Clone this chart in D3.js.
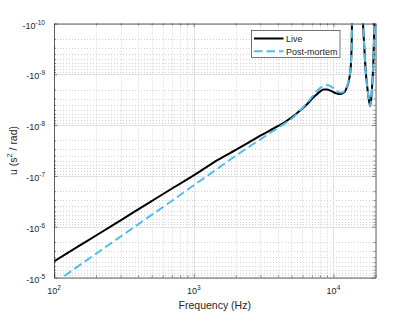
<!DOCTYPE html>
<html>
<head>
<meta charset="utf-8">
<script src="https://cdn.jsdelivr.net/npm/d3@7"></script>
<style>
  html, body { margin: 0; padding: 0; background: #fff; }
  svg { display: block; font-family: "Liberation Sans", Arial, Helvetica, sans-serif; }
</style>
</head>
<body>
<svg id="chart" width="415" height="312"></svg>
<script>
// frequency samples (Hz) shared by both series
const freqHz = [
  100, 150, 200, 300, 500, 700, 1000, 1500, 2000, 2500,
  3000, 3500, 4000, 4500, 5000, 5500, 6000, 6500, 7000, 7500,
  8000, 8500, 9000, 9500, 10000, 10500, 11000, 11500, 12000, 12500,
  13000, 13300, 13500, 13700, 16000, 16300, 16600, 17000, 17500, 18000,
  18300, 18600, 19000, 19300, 19600, 19900
];

// u (s^2 / rad), negative values
const uLive = [
  -4.83e-6, -2.42e-6, -1.49e-6, -7.48e-7, -3.13e-7, -1.77e-7, -9.77e-8, -4.77e-8, -3.08e-8, -2.17e-8,
  -1.62e-8, -1.28e-8, -1.05e-8, -8.69e-9, -7.10e-9, -5.78e-9, -4.72e-9, -3.85e-9, -3.07e-9, -2.56e-9,
  -2.19e-9, -2.00e-9, -2.00e-9, -2.09e-9, -2.24e-9, -2.37e-9, -2.45e-9, -2.39e-9, -2.24e-9, -1.78e-9,
  -1.19e-9, -7.23e-10, -2.67e-10, -2e-11, -2e-11, -1.08e-10, -2.67e-10, -8.26e-10, -1.87e-9, -3.37e-9,
  -4.22e-9, -3.21e-9, -1.42e-9, -5.75e-10, -1.36e-10, -2e-11
];

const uPostMortem = [
  -1.29e-5, -5.92e-6, -3.40e-6, -1.56e-6, -5.86e-7, -3.08e-7, -1.53e-7, -7.03e-8, -4.01e-8, -2.65e-8,
  -1.91e-8, -1.44e-8, -1.14e-8, -9.23e-9, -7.59e-9, -5.92e-9, -4.61e-9, -3.60e-9, -2.81e-9, -2.24e-9,
  -1.87e-9, -1.71e-9, -1.63e-9, -1.71e-9, -1.87e-9, -2.07e-9, -2.27e-9, -2.29e-9, -2.14e-9, -1.71e-9,
  -1.14e-9, -6.90e-10, -2.55e-10, -2e-11, -2e-11, -1.08e-10, -2.67e-10, -8.26e-10, -1.87e-9, -3.37e-9,
  -4.22e-9, -3.21e-9, -1.42e-9, -5.75e-10, -1.36e-10, -2e-11
];

const seriesNames = ["Live", "Post-mortem"];
const xTickValues = [1e2, 1e3, 1e4];
const xTickExponents = ["2", "3", "4"];
const yTickValues = [-1e-10, -1e-9, -1e-8, -1e-7, -1e-6, -1e-5];
const yTickExponents = ["-10", "-9", "-8", "-7", "-6", "-5"];

const plot = { left: 54, right: 375.5, top: 23.5, bottom: 277.5 };
const textColor = "#262626";

const svg = d3.select("#chart");

const x = d3.scaleLog().domain([100, 20000]).range([plot.left, plot.right]);
// magnitude of u, larger |u| lower on the page
const y = d3.scaleLog().domain([1e-10, 1e-5]).range([plot.top, plot.bottom]);
const yOf = (u) => y(-u);

// grid
const grid = svg.append("g");
const xMinor = x.ticks().filter((d) => !xTickValues.includes(d));
const yMinor = y.ticks().filter((d) => !yTickValues.includes(-d));

grid.selectAll(".xminor").data(xMinor).join("line")
  .attr("x1", (d) => Math.round(x(d)) + 0.5).attr("x2", (d) => Math.round(x(d)) + 0.5)
  .attr("y1", plot.top).attr("y2", plot.bottom)
  .attr("stroke", "#d2d2d2").attr("stroke-width", 1).attr("stroke-dasharray", "1,2");

grid.selectAll(".yminor").data(yMinor).join("line")
  .attr("x1", plot.left).attr("x2", plot.right)
  .attr("y1", (d) => Math.round(y(d)) + 0.5).attr("y2", (d) => Math.round(y(d)) + 0.5)
  .attr("stroke", "#d2d2d2").attr("stroke-width", 1).attr("stroke-dasharray", "1,2");

grid.selectAll(".xmajor").data(xTickValues).join("line")
  .attr("x1", (d) => Math.round(x(d)) + 0.5).attr("x2", (d) => Math.round(x(d)) + 0.5)
  .attr("y1", plot.top).attr("y2", plot.bottom)
  .attr("stroke", "#e2e2e2").attr("stroke-width", 1);

grid.selectAll(".ymajor").data(yTickValues).join("line")
  .attr("x1", plot.left).attr("x2", plot.right)
  .attr("y1", (d) => Math.round(yOf(d)) + 0.5).attr("y2", (d) => Math.round(yOf(d)) + 0.5)
  .attr("stroke", "#e2e2e2").attr("stroke-width", 1);

// curves
svg.append("clipPath").attr("id", "plot-clip")
  .append("rect")
  .attr("x", plot.left).attr("y", plot.top)
  .attr("width", plot.right - plot.left).attr("height", plot.bottom - plot.top);

const line = (values) => d3.line()
  .x((d, i) => x(freqHz[i]))
  .y((d) => yOf(d))
  .curve(d3.curveMonotoneX)(values);

const curves = svg.append("g").attr("clip-path", "url(#plot-clip)");
curves.append("path")
  .attr("d", line(uLive))
  .attr("fill", "none").attr("stroke", "#000").attr("stroke-width", 2);
curves.append("path")
  .attr("d", line(uPostMortem))
  .attr("fill", "none").attr("stroke", "#4dbeee").attr("stroke-width", 2)
  .attr("stroke-dasharray", "8.5,4");

// axes: ticks inward on all four sides
const axisColor = "#3a3a3a";
const axes = svg.append("g");
const tickSides = [
  { axis: d3.axisBottom(x), pos: `translate(0,${plot.bottom})` },
  { axis: d3.axisTop(x), pos: `translate(0,${plot.top})` },
  { axis: d3.axisLeft(y), pos: `translate(${plot.left},0)` },
  { axis: d3.axisRight(y), pos: `translate(${plot.right},0)` }
];
tickSides.forEach(({ axis, pos }, k) => {
  const isX = k < 2;
  const scale = isX ? x : y;
  const majors = isX ? xTickValues : yTickValues.map((d) => -d);
  const g = axes.append("g").attr("transform", pos)
    .call(axis.tickValues(scale.ticks()).tickSizeOuter(0).tickFormat(""));
  g.select(".domain").attr("stroke", axisColor).attr("stroke-width", 0.8);
  g.selectAll(".tick line")
    .attr("stroke", axisColor).attr("stroke-width", 0.6)
    .each(function (d) {
      const len = majors.includes(d) ? 3.5 : 2;
      const el = d3.select(this);
      if (isX) el.attr("y2", (k === 0 ? -1 : 1) * len);
      else el.attr("x2", (k === 2 ? 1 : -1) * len);
    });
  g.selectAll(".tick text").remove();
});

// tick labels with superscripts
const xLabels = svg.append("g").attr("font-size", 9).attr("fill", textColor);
xTickValues.forEach((d, i) => {
  const t = xLabels.append("text").attr("x", x(d)).attr("y", 293.5).attr("text-anchor", "middle");
  t.append("tspan").text("10");
  t.append("tspan").attr("dy", -4).attr("font-size", 6.5).text(xTickExponents[i]);
});

const yLabels = svg.append("g").attr("font-size", 9).attr("fill", textColor);
yTickValues.forEach((d, i) => {
  const t = yLabels.append("text").attr("x", 45).attr("y", yOf(d) + 5).attr("text-anchor", "end");
  t.append("tspan").text("-10");
  t.append("tspan").attr("dy", -4).attr("font-size", 6.5).text(yTickExponents[i]);
});

// axis titles
svg.append("text")
  .attr("x", (plot.left + plot.right) / 2).attr("y", 308.5)
  .attr("text-anchor", "middle").attr("font-size", 10.5).attr("fill", textColor)
  .text("Frequency (Hz)");

const yTitle = svg.append("text")
  .attr("transform", `translate(16.5,${(plot.top + plot.bottom) / 2}) rotate(-90)`)
  .attr("text-anchor", "middle").attr("font-size", 10.5).attr("fill", textColor);
yTitle.append("tspan").text("u (s");
yTitle.append("tspan").attr("dy", -4.5).attr("font-size", 7.5).text("2");
yTitle.append("tspan").attr("dy", 4.5).text(" / rad)");

// legend
const legend = svg.append("g");
legend.append("rect")
  .attr("x", 251.5).attr("y", 30.5).attr("width", 88.5).attr("height", 27)
  .attr("fill", "#fff").attr("stroke", axisColor).attr("stroke-width", 0.7);
const legendStyles = [
  { color: "#000", dash: null },
  { color: "#4dbeee", dash: "8.5,4" }
];
seriesNames.forEach((name, i) => {
  const cy = 38.5 + i * 12.7;
  legend.append("line")
    .attr("x1", 254).attr("x2", 283.5).attr("y1", cy).attr("y2", cy)
    .attr("stroke", legendStyles[i].color).attr("stroke-width", 2)
    .attr("stroke-dasharray", legendStyles[i].dash);
  legend.append("text")
    .attr("x", 286).attr("y", cy + 3.3)
    .attr("font-size", 9).attr("fill", textColor)
    .text(name);
});
</script>
</body>
</html>
